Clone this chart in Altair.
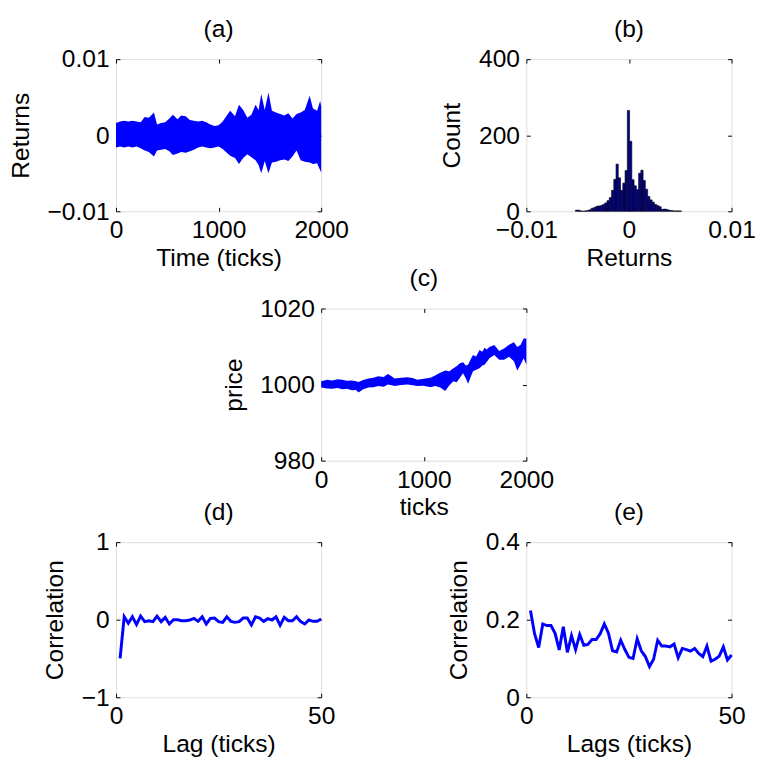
import altair as alt
import pandas as pd

FONT = "Liberation Sans"
BLUE = "#0000ff"
FS = 25

# ---------------- (a) returns envelope (upper / lower edges of the dense trace)
ret_t = [0, 40, 80, 120, 160, 200, 240, 280, 320, 370, 400, 440, 480, 520, 555, 600,
         635, 680, 720, 760, 800, 840, 880, 920, 960, 1000, 1040, 1080, 1113, 1160, 1199,
         1240, 1280, 1320, 1360, 1390, 1416, 1450, 1486, 1520, 1560, 1600, 1640, 1680,
         1720, 1760, 1800, 1840, 1888, 1920, 1960, 1990, 2000]
ret_hi = [0.0016, 0.0018, 0.0019, 0.0018, 0.0019, 0.0018, 0.0017, 0.0024, 0.0023, 0.0030,
          0.0014, 0.0016, 0.0017, 0.0022, 0.0027, 0.0021, 0.0026, 0.0025, 0.0020, 0.0019,
          0.0018, 0.0019, 0.0017, 0.0014, 0.0012, 0.0013, 0.0018, 0.0026, 0.0032, 0.0025,
          0.0040, 0.0033, 0.0023, 0.0027, 0.0040, 0.0033, 0.0054, 0.0033, 0.0056, 0.0032,
          0.0030, 0.0028, 0.0026, 0.0029, 0.0022, 0.0028, 0.0030, 0.0033, 0.0052, 0.0035,
          0.0032, 0.0045, 0.0038]
ret_lo = [-0.0016, -0.0015, -0.0016, -0.0015, -0.0016, -0.0015, -0.0017, -0.0020, -0.0022,
          -0.0028, -0.0020, -0.0019, -0.0018, -0.0021, -0.0026, -0.0024, -0.0022, -0.0023,
          -0.0021, -0.0019, -0.0016, -0.0015, -0.0016, -0.0017, -0.0016, -0.0015, -0.0018,
          -0.0023, -0.0027, -0.0030, -0.0038, -0.0030, -0.0025, -0.0029, -0.0033, -0.0039,
          -0.0050, -0.0034, -0.0050, -0.0036, -0.0035, -0.0033, -0.0032, -0.0034, -0.0028,
          -0.0020, -0.0033, -0.0035, -0.0036, -0.0038, -0.0037, -0.0046, -0.0049]

# ---------------- (b) histogram of returns
hist_lo = [-0.00522, -0.00500, -0.00478, -0.00456, -0.00434, -0.00412, -0.00390, -0.00368,
           -0.00346, -0.00324, -0.00302, -0.00280, -0.00258, -0.00236, -0.00214, -0.00192,
           -0.00170, -0.00148, -0.00126, -0.00104, -0.00082, -0.00060, -0.00038, -0.00016,
           0.00006, 0.00028, 0.00050, 0.00072, 0.00094, 0.00116, 0.00138, 0.00160, 0.00182,
           0.00204, 0.00226, 0.00248, 0.00270, 0.00292, 0.00314, 0.00336, 0.00358, 0.00380,
           0.00402, 0.00424, 0.00446, 0.00468, 0.00490]
hist_hi = hist_lo[1:] + [0.00512]
hist_cnt = [3, 3, 1, 0, 1, 2, 4, 8, 10, 13, 14, 15, 18, 22, 28, 36, 55, 84, 124, 88, 55, 74,
            107, 265, 184, 83, 67, 57, 100, 108, 81, 58, 39, 30, 24, 18, 15, 12, 5, 6, 5, 3,
            2, 1, 1, 1, 1]

# ---------------- (c) price envelope
price_t = [0, 60, 108, 160, 204, 250, 300, 340, 364, 410, 460, 510, 555, 610, 650, 690,
           715, 780, 842, 890, 938, 1000, 1065, 1110, 1161, 1209, 1250, 1289, 1320, 1352,
           1384, 1410, 1432, 1460, 1480, 1510, 1544, 1570, 1592, 1615, 1640, 1687, 1735,
           1783, 1831, 1879, 1911, 1943, 1974, 2000]
price_hi = [1000.9, 1001.3, 1001.1, 1001.4, 1001.3, 1001.0, 1001.1, 1000.9, 1000.7, 1001.2,
            1001.6, 1001.8, 1002.2, 1002.0, 1002.8, 1002.1, 1001.6, 1001.8, 1001.9, 1001.7,
            1001.3, 1001.5, 1001.8, 1002.4, 1003.1, 1003.7, 1003.5, 1004.3, 1004.8, 1005.6,
            1005.9, 1005.0, 1005.2, 1006.8, 1007.8, 1007.4, 1009.1, 1008.6, 1009.7, 1009.2,
            1009.9, 1010.4, 1008.8, 1009.5, 1010.5, 1011.1, 1009.9, 1010.4, 1012.1, 1012.1]
price_lo = [999.2, 999.0, 998.9, 999.1, 998.8, 998.9, 998.5, 998.6, 997.9, 998.8, 999.2,
            999.3, 999.6, 999.4, 1000.0, 999.8, 999.6, 999.9, 1000.0, 999.8, 999.6, 999.7,
            999.3, 999.6, 999.2, 998.3, 999.8, 1000.9, 1000.6, 1001.8, 1003.0, 1001.6,
            1000.2, 1002.2, 1003.5, 1003.9, 1004.3, 1005.0, 1005.2, 1006.0, 1006.9, 1007.8,
            1006.5, 1006.5, 1007.3, 1006.1, 1003.7, 1005.2, 1006.9, 1005.2]

# ---------------- (d) autocorrelation of returns, (e) of absolute returns
lags = list(range(1, 51))
acf_ret = [-0.50, 0.038, -0.046, 0.038, -0.063, 0.046, -0.025, -0.013, -0.025, 0.046,
           -0.025, 0.030, -0.055, 0.0, 0.0, -0.013, -0.013, -0.004, 0.017, -0.021,
           0.038, -0.055, 0.017, 0.021, -0.025, -0.034, 0.038, -0.021, -0.034, -0.025,
           0.021, 0.021, -0.067, 0.038, 0.021, -0.021, 0.013, -0.004, 0.038, -0.072,
           0.030, -0.013, -0.013, 0.038, -0.025, -0.055, -0.004, -0.021, -0.021, 0.008]
acf_abs = [0.224, 0.164, 0.128, 0.189, 0.185, 0.185, 0.165, 0.122, 0.182, 0.116,
           0.159, 0.123, 0.162, 0.134, 0.136, 0.149, 0.149, 0.164, 0.189, 0.165,
           0.120, 0.117, 0.147, 0.123, 0.103, 0.100, 0.151, 0.120, 0.105, 0.079,
           0.098, 0.147, 0.132, 0.132, 0.130, 0.137, 0.102, 0.126, 0.123, 0.119,
           0.126, 0.113, 0.105, 0.132, 0.093, 0.098, 0.106, 0.130, 0.096, 0.109]

df_a = pd.DataFrame({"t": ret_t, "hi": ret_hi, "lo": ret_lo})
df_b = pd.DataFrame({"b0": hist_lo, "b1": hist_hi, "n": hist_cnt})
df_c = pd.DataFrame({"t": price_t, "hi": price_hi, "lo": price_lo})
df_d = pd.DataFrame({"lag": lags, "r": acf_ret})
df_e = pd.DataFrame({"lag": lags, "r": acf_abs})

TK = 4


def main_axis(vals, title, orient, fmt):
    common = dict(values=vals, format=fmt, tickSize=0, domain=False, grid=False,
                  labelFont=FONT, titleFont=FONT, labelFontSize=FS, titleFontSize=FS,
                  labelColor="black", titleColor="black", titleFontWeight="normal",
                  labelFlush=False, labelOverlap=False, title=title, orient=orient,
                  minExtent=0)
    if orient == "bottom":
        common.update(labelPadding=7, titlePadding=3)
    else:
        common.update(labelPadding=7, titlePadding=14)
    return alt.Axis(**common)


def tick_axis(vals, orient):
    return alt.Axis(values=vals, tickSize=TK, offset=-TK, labels=False, domain=False,
                    grid=False, title=None, orient=orient, tickColor="black", tickWidth=1,
                    minExtent=0, maxExtent=0)


def panel(marks, data, xf, yf, xs, ys, xv, yv, title, w, h):
    base = alt.Chart(data).mark_point(opacity=0)
    t1 = base.encode(
        x=alt.X(xf, type="quantitative", scale=xs, axis=tick_axis(xv, "bottom")),
        y=alt.Y(yf, type="quantitative", scale=ys, axis=tick_axis(yv, "left")),
    )
    t2 = base.encode(
        x=alt.X(xf, type="quantitative", scale=xs, axis=tick_axis(xv, "top")),
        y=alt.Y(yf, type="quantitative", scale=ys, axis=tick_axis(yv, "right")),
    )
    return alt.layer(marks, t1, t2).resolve_axis(x="independent", y="independent").properties(
        width=w, height=h,
        title=alt.TitleParams(title, font=FONT, fontSize=FS, fontWeight="normal",
                              color="black", offset=6, anchor="middle"),
    )


W = 209
H1 = 155
H3 = 158

# (a)
xs_a = alt.Scale(domain=[0, 2000], nice=False, zero=False)
ys_a = alt.Scale(domain=[-0.01, 0.01], nice=False, zero=False)
area_a = alt.Chart(df_a).mark_area(color=BLUE, opacity=1).encode(
    x=alt.X("t:Q", scale=xs_a, axis=main_axis([0, 1000, 2000], "Time (ticks)", "bottom", "d")),
    y=alt.Y("lo:Q", scale=ys_a, axis=main_axis([-0.01, 0, 0.01], "Returns", "left", "~g")),
    y2="hi:Q",
)
pa = panel(area_a, df_a, "t", "hi", xs_a, ys_a, [0, 1000, 2000], [-0.01, 0, 0.01],
           "(a)", W, H1)

# (b)
xs_b = alt.Scale(domain=[-0.01, 0.01], nice=False, zero=False)
ys_b = alt.Scale(domain=[0, 400], nice=False)
bars_b = alt.Chart(df_b).mark_rect(color="#000090", stroke="black", strokeWidth=0.6).encode(
    x=alt.X("b0:Q", scale=xs_b, axis=main_axis([-0.01, 0, 0.01], "Returns", "bottom", "~g")),
    x2="b1:Q",
    y=alt.Y("n:Q", scale=ys_b, axis=main_axis([0, 200, 400], "Count", "left", "d")),
    y2=alt.datum(0),
)
pb = panel(bars_b, df_b, "b0", "n", xs_b, ys_b, [-0.01, 0, 0.01], [0, 200, 400],
           "(b)", W, H1)

# (c)
xs_c = alt.Scale(domain=[0, 2000], nice=False, zero=False)
ys_c = alt.Scale(domain=[980, 1020], nice=False, zero=False)
area_c = alt.Chart(df_c).mark_area(color=BLUE, opacity=1).encode(
    x=alt.X("t:Q", scale=xs_c, axis=main_axis([0, 1000, 2000], "ticks", "bottom", "d")),
    y=alt.Y("lo:Q", scale=ys_c, axis=main_axis([980, 1000, 1020], "price", "left", "d")),
    y2="hi:Q",
)
pc = panel(area_c, df_c, "t", "hi", xs_c, ys_c, [0, 1000, 2000], [980, 1000, 1020],
           "(c)", W, H1)

# (d)
xs_d = alt.Scale(domain=[0, 50], nice=False, zero=False)
ys_d = alt.Scale(domain=[-1, 1], nice=False, zero=False)
line_d = alt.Chart(df_d).mark_line(color=BLUE, strokeWidth=3).encode(
    x=alt.X("lag:Q", scale=xs_d, axis=main_axis([0, 50], "Lag (ticks)", "bottom", "d")),
    y=alt.Y("r:Q", scale=ys_d, axis=main_axis([-1, 0, 1], "Correlation", "left", "~g")),
)
pd_ = panel(line_d, df_d, "lag", "r", xs_d, ys_d, [0, 50], [-1, 0, 1], "(d)", W, H3)

# (e)
xs_e = alt.Scale(domain=[0, 50], nice=False, zero=False)
ys_e = alt.Scale(domain=[0, 0.4], nice=False, zero=False)
line_e = alt.Chart(df_e).mark_line(color=BLUE, strokeWidth=3).encode(
    x=alt.X("lag:Q", scale=xs_e, axis=main_axis([0, 50], "Lags (ticks)", "bottom", "d")),
    y=alt.Y("r:Q", scale=ys_e, axis=main_axis([0, 0.2, 0.4], "Correlation", "left", "~g")),
)
pe = panel(line_e, df_e, "lag", "r", xs_e, ys_e, [0, 50], [0, 0.2, 0.4], "(e)", W, H3)


def spacer(h):
    return alt.Chart(pd.DataFrame({"s": [0]})).mark_point(opacity=0).properties(
        width=W, height=h, view=alt.ViewBackground(strokeOpacity=0)
    )


chart = alt.concat(
    pa, spacer(177), pb,
    spacer(161), pc, spacer(161),
    pd_, spacer(H3), pe,
    columns=3, spacing={"row": 77, "column": 0}, bounds="flush",
).properties(
    padding={"left": 0, "top": 1, "right": 5, "bottom": 5}
).configure_view(stroke="black", strokeWidth=1).configure(background="white")

chart.save("out.html", embed_options={"renderer": "svg", "actions": False})
